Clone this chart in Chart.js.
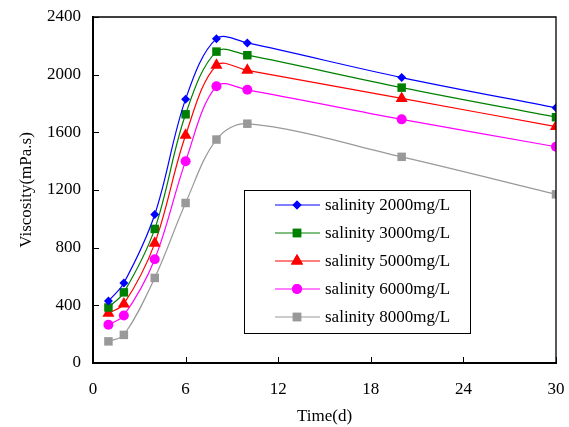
<!DOCTYPE html>
<html>
<head>
<meta charset="utf-8">
<script src="https://cdn.jsdelivr.net/npm/chart.js@4/dist/chart.umd.min.js"></script>
<style>
  html, body { margin: 0; padding: 0; background: #fff; }
  #wrap { width: 569px; height: 427px; }
</style>
</head>
<body>
<div id="wrap"><canvas id="viscChart"></canvas></div>
<script>
// data
const days = [1, 2, 4, 6, 8, 10, 20, 30];
const sal2000 = [430, 555, 1030, 1830, 2250, 2220, 1980, 1770];
const sal3000 = [385, 490, 930, 1725, 2160, 2135, 1910, 1705];
const sal5000 = [345, 410, 830, 1580, 2065, 2030, 1835, 1640];
const sal6000 = [265, 330, 720, 1400, 1920, 1895, 1690, 1500];
const sal8000 = [150, 195, 590, 1110, 1550, 1660, 1430, 1170];
const seriesLabels = ['salinity 2000mg/L', 'salinity 3000mg/L', 'salinity 5000mg/L', 'salinity 6000mg/L', 'salinity 8000mg/L'];
const yTicks = [0, 400, 800, 1200, 1600, 2000, 2400];
const xTicks = [0, 6, 12, 18, 24, 30];

const serif = '"Liberation Serif", "Times New Roman", serif';

function pts(vals) {
    return days.map((d, i) => ({ x: d, y: vals[i] }));
}

function makeSet(label, vals, color, style, radius) {
    return {
        label: label,
        data: pts(vals),
        borderColor: color,
        backgroundColor: color,
        borderWidth: 1.2,
        pointStyle: style,
        pointRadius: radius,
        pointBorderWidth: 0,
        pointBackgroundColor: color,
        tension: 0.35
    };
}

// draws frame, inward ticks and the boxed legend
const framePlugin = {
    id: 'frame',
    afterDraw(chart) {
        const ctx = chart.ctx;
        const a = chart.chartArea;
        const xs = chart.scales.x, ys = chart.scales.y;
        ctx.save();
        ctx.strokeStyle = '#000';
        ctx.lineWidth = 1.3;
        ctx.beginPath();
        ctx.moveTo(a.left, a.top);
        ctx.lineTo(a.right, a.top);
        ctx.lineTo(a.right, a.bottom);
        ctx.stroke();

        ctx.lineWidth = 1;
        ctx.beginPath();
        yTicks.forEach(v => {
            const y = Math.round(ys.getPixelForValue(v)) + 0.5;
            ctx.moveTo(a.left, y);
            ctx.lineTo(a.left + 6, y);
        });
        xTicks.forEach(v => {
            const x = Math.round(xs.getPixelForValue(v)) + 0.5;
            ctx.moveTo(x, a.bottom);
            ctx.lineTo(x, a.bottom - 6);
        });
        ctx.stroke();

        // legend
        const bx = 244, by = 190, bw = 226, bh = 143;
        ctx.fillStyle = '#fff';
        ctx.fillRect(bx, by, bw, bh);
        ctx.strokeStyle = '#000';
        ctx.lineWidth = 1;
        ctx.strokeRect(bx + 0.5, by + 0.5, bw, bh);

        ctx.font = '17px ' + serif;
        ctx.textBaseline = 'middle';
        ctx.textAlign = 'left';
        chart.data.datasets.forEach((ds, i) => {
            const y = 205 + i * 28;
            ctx.strokeStyle = ds.borderColor;
            ctx.lineWidth = 1.2;
            ctx.beginPath();
            ctx.moveTo(275, y);
            ctx.lineTo(320, y);
            ctx.stroke();
            ctx.fillStyle = ds.borderColor;
            Chart.helpers.drawPoint(ctx, {
                pointStyle: ds.pointStyle,
                radius: ds.pointRadius,
                rotation: 0,
                borderWidth: 0
            }, 297, y);
            ctx.fill();
            ctx.fillStyle = '#000';
            ctx.fillText(seriesLabels[i], 325, y + 1);
        });
        ctx.restore();
    }
};

const viscChart = new Chart(document.getElementById('viscChart').getContext('2d'), {
    type: 'line',
    data: {
        datasets: [
            makeSet(seriesLabels[0], sal2000, '#0000ff', 'rectRot', 4.5),
            makeSet(seriesLabels[1], sal3000, '#008000', 'rect', 6),
            makeSet(seriesLabels[2], sal5000, '#ff0000', 'triangle', 7),
            makeSet(seriesLabels[3], sal6000, '#ff00ff', 'circle', 5),
            makeSet(seriesLabels[4], sal8000, '#999999', 'rect', 6)
        ]
    },
    options: {
        responsive: true,
        maintainAspectRatio: false,
        animation: false,
        layout: { padding: { left: 0, right: 13, top: 17, bottom: 0 } },
        plugins: {
            legend: { display: false },
            tooltip: { enabled: false }
        },
        scales: {
            x: {
                type: 'linear',
                min: 0,
                max: 30,
                afterBuildTicks: s => { s.ticks = xTicks.map(v => ({ value: v })); },
                afterFit: s => { s.height = 64; s.paddingLeft = 0; s.paddingRight = 0; },
                grid: { display: false, drawTicks: false },
                border: { color: '#000', width: 2 },
                ticks: {
                    color: '#000', padding: 16,
                    font: { family: serif, size: 17 },
                    callback: v => String(v)
                },
                title: {
                    display: true,
                    text: 'Time(d)',
                    color: '#000',
                    padding: { top: 0, bottom: 0 },
                    font: { family: serif, size: 17 }
                }
            },
            y: {
                min: 0,
                max: 2400,
                afterBuildTicks: s => { s.ticks = yTicks.map(v => ({ value: v })); },
                afterFit: s => { s.width = 93; s.paddingTop = 0; s.paddingBottom = 0; },
                grid: { display: false, drawTicks: false },
                border: { color: '#000', width: 2 },
                ticks: {
                    color: '#000', padding: 12,
                    font: { family: serif, size: 17 },
                    callback: v => String(v)
                },
                title: {
                    display: true,
                    text: 'Viscosity(mPa.s)',
                    color: '#000',
                    padding: { top: 16, bottom: 0 },
                    font: { family: serif, size: 17 }
                }
            }
        }
    },
    plugins: [framePlugin]
});
</script>
</body>
</html>
